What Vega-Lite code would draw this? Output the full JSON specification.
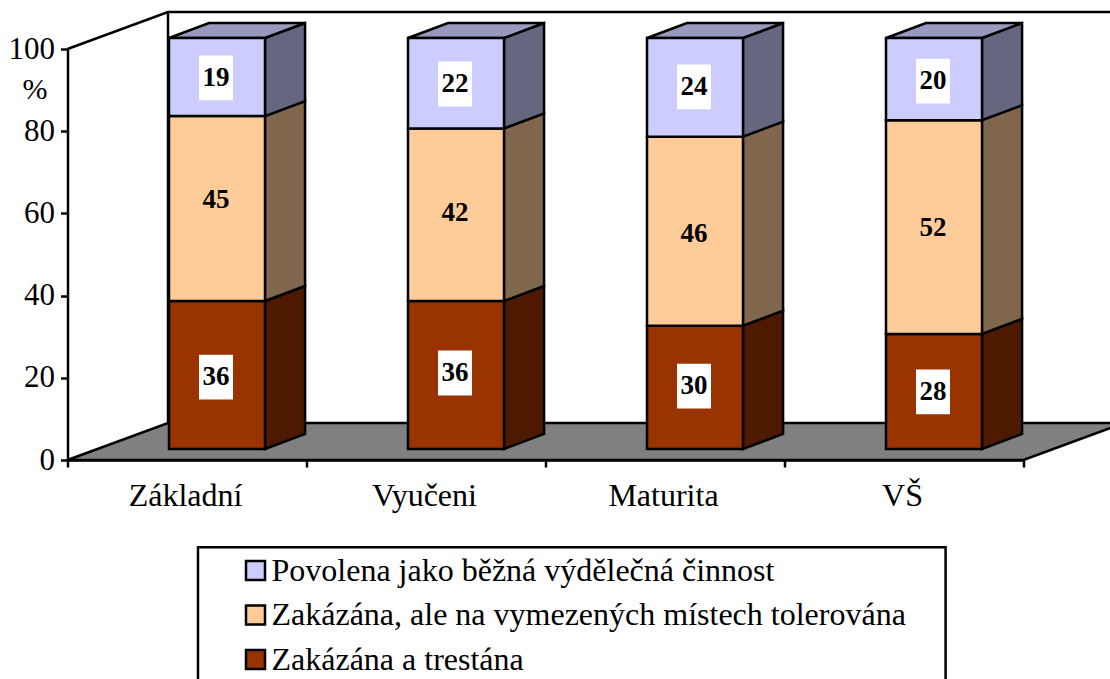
{
"$schema":"https://vega.github.io/schema/vega-lite/v6.json",
"autosize":{"type":"none"},
"width":956,"height":411,
"padding":{"left":67.5,"top":49,"right":86.5,"bottom":219},
"background":"white",
"config":{"view":{"stroke":null},"font":"Liberation Serif"},
"datasets":{
"shares":[
{"cat":"Základní","series":"Zakázána a trestána","rank":1,"value":36,"labelAt":17.5},
{"cat":"Základní","series":"Zakázána, ale na vymezených místech tolerována","rank":2,"value":45,"labelAt":60.6},
{"cat":"Základní","series":"Povolena jako běžná výdělečná činnost","rank":3,"value":19,"labelAt":90.3},
{"cat":"Vyučeni","series":"Zakázána a trestána","rank":1,"value":36,"labelAt":18.5},
{"cat":"Vyučeni","series":"Zakázána, ale na vymezených místech tolerována","rank":2,"value":42,"labelAt":57.4},
{"cat":"Vyučeni","series":"Povolena jako běžná výdělečná činnost","rank":3,"value":22,"labelAt":88.8},
{"cat":"Maturita","series":"Zakázána a trestána","rank":1,"value":30,"labelAt":15.3},
{"cat":"Maturita","series":"Zakázána, ale na vymezených místech tolerována","rank":2,"value":46,"labelAt":52.3},
{"cat":"Maturita","series":"Povolena jako běžná výdělečná činnost","rank":3,"value":24,"labelAt":88.1},
{"cat":"VŠ","series":"Zakázána a trestána","rank":1,"value":28,"labelAt":13.9},
{"cat":"VŠ","series":"Zakázána, ale na vymezených místech tolerována","rank":2,"value":52,"labelAt":53.8},
{"cat":"VŠ","series":"Povolena jako běžná výdělečná činnost","rank":3,"value":20,"labelAt":89.5}
],
"faces":[
{"cat":"Základní","face":"trest","at":0.826,"low":0,"high":36},{"cat":"Základní","face":"trest","at":0.994,"low":3.65,"high":39.65},
{"cat":"Základní","face":"tol","at":0.826,"low":36,"high":81},{"cat":"Základní","face":"tol","at":0.994,"low":39.65,"high":84.65},
{"cat":"Základní","face":"pov","at":0.826,"low":81,"high":100},{"cat":"Základní","face":"pov","at":0.994,"low":84.65,"high":103.65},
{"cat":"Základní","face":"top","at":0.425,"low":100,"high":100},{"cat":"Základní","face":"top","at":0.592,"low":100,"high":103.65},{"cat":"Základní","face":"top","at":0.826,"low":100,"high":103.65},{"cat":"Základní","face":"top","at":0.994,"low":103.65,"high":103.65},
{"cat":"Vyučeni","face":"trest","at":1.826,"low":0,"high":36},{"cat":"Vyučeni","face":"trest","at":1.994,"low":3.65,"high":39.65},
{"cat":"Vyučeni","face":"tol","at":1.826,"low":36,"high":78},{"cat":"Vyučeni","face":"tol","at":1.994,"low":39.65,"high":81.65},
{"cat":"Vyučeni","face":"pov","at":1.826,"low":78,"high":100},{"cat":"Vyučeni","face":"pov","at":1.994,"low":81.65,"high":103.65},
{"cat":"Vyučeni","face":"top","at":1.425,"low":100,"high":100},{"cat":"Vyučeni","face":"top","at":1.592,"low":100,"high":103.65},{"cat":"Vyučeni","face":"top","at":1.826,"low":100,"high":103.65},{"cat":"Vyučeni","face":"top","at":1.994,"low":103.65,"high":103.65},
{"cat":"Maturita","face":"trest","at":2.826,"low":0,"high":30},{"cat":"Maturita","face":"trest","at":2.994,"low":3.65,"high":33.65},
{"cat":"Maturita","face":"tol","at":2.826,"low":30,"high":76},{"cat":"Maturita","face":"tol","at":2.994,"low":33.65,"high":79.65},
{"cat":"Maturita","face":"pov","at":2.826,"low":76,"high":100},{"cat":"Maturita","face":"pov","at":2.994,"low":79.65,"high":103.65},
{"cat":"Maturita","face":"top","at":2.425,"low":100,"high":100},{"cat":"Maturita","face":"top","at":2.592,"low":100,"high":103.65},{"cat":"Maturita","face":"top","at":2.826,"low":100,"high":103.65},{"cat":"Maturita","face":"top","at":2.994,"low":103.65,"high":103.65},
{"cat":"VŠ","face":"trest","at":3.826,"low":0,"high":28},{"cat":"VŠ","face":"trest","at":3.994,"low":3.65,"high":31.65},
{"cat":"VŠ","face":"tol","at":3.826,"low":28,"high":80},{"cat":"VŠ","face":"tol","at":3.994,"low":31.65,"high":83.65},
{"cat":"VŠ","face":"pov","at":3.826,"low":80,"high":100},{"cat":"VŠ","face":"pov","at":3.994,"low":83.65,"high":103.65},
{"cat":"VŠ","face":"top","at":3.425,"low":100,"high":100},{"cat":"VŠ","face":"top","at":3.592,"low":100,"high":103.65},{"cat":"VŠ","face":"top","at":3.826,"low":100,"high":103.65},{"cat":"VŠ","face":"top","at":3.994,"low":103.65,"high":103.65}
],
"floor":[
{"at":0,"low":0,"high":0},{"at":0.4205,"low":0,"high":9},{"at":4,"low":0,"high":9},{"at":4.4205,"low":9,"high":9}
],
"wall":[
{"seg":"a","at":0,"level":100},{"seg":"a","at":0.4205,"level":109},{"seg":"a","at":4.4205,"level":109},
{"seg":"b","at":0.4205,"level":109,"ord":1},{"seg":"b","at":0.4205,"level":9,"ord":2}
],
"legendBox":[{"from":0.546,"to":3.674,"top":-21.2,"bottom":-60}]
},
"layer":[
{"data":{"name":"legendBox"},
 "mark":{"type":"rect","fill":"white","stroke":"black","strokeWidth":2.5},
 "encoding":{
  "x":{"field":"from","type":"quantitative","scale":{"domain":[0,4],"nice":false,"zero":false},"axis":null},
  "x2":{"field":"to"},
  "y":{"field":"top","type":"quantitative","scale":{"domain":[0,100],"nice":false},
   "axis":{"title":"%","titleAngle":0,"titleX":-33,"titleY":49,"titleAlign":"center","titleBaseline":"alphabetic","titleFontSize":30,"titleFontWeight":"normal","titleFont":"Liberation Serif","titleColor":"black",
    "values":[0,20,40,60,80,100],"labelFontSize":31,"labelColor":"black","labelFont":"Liberation Serif","labelPadding":6,"tickSize":7,"tickWidth":2.5,"tickColor":"black","domainWidth":2.5,"domainColor":"black","grid":false,"zindex":1}},
  "y2":{"field":"bottom"}}},
{"data":{"name":"floor"},
 "mark":{"type":"area","fill":"#808080","stroke":"black","strokeWidth":2.5},
 "encoding":{
  "x":{"field":"at","type":"quantitative","scale":{"domain":[0,4],"nice":false,"zero":false},"axis":null},
  "y":{"field":"low","type":"quantitative","stack":null},
  "y2":{"field":"high"}}},
{"data":{"name":"wall"},
 "mark":{"type":"line","color":"black","strokeWidth":2.5},
 "encoding":{
  "x":{"field":"at","type":"quantitative","scale":{"domain":[0,4],"nice":false,"zero":false},"axis":null},
  "y":{"field":"level","type":"quantitative"},
  "detail":{"field":"seg"},
  "order":{"field":"ord"}}},
{"data":{"name":"faces"},
 "mark":{"type":"area","stroke":"black","strokeWidth":2.5,"yOffset":-11,"y2Offset":-11},
 "encoding":{
  "x":{"field":"at","type":"quantitative","scale":{"domain":[0,4],"nice":false,"zero":false},"axis":null},
  "y":{"field":"low","type":"quantitative","stack":null},
  "y2":{"field":"high"},
  "detail":{"field":"cat"},
  "color":{"field":"face","type":"nominal","legend":null,
   "scale":{"domain":["top","pov","tol","trest"],"range":["#9999BF","#666680","#80664D","#4D1A00"]}}}},
{"data":{"name":"shares"},
 "mark":{"type":"bar","width":96,"xOffset":30,"yOffset":-11,"y2Offset":-11,"stroke":"black","strokeWidth":2.5},
 "encoding":{
  "x":{"field":"cat","type":"nominal","sort":["Základní","Vyučeni","Maturita","VŠ"],
   "scale":{"paddingInner":0,"paddingOuter":0},
   "axis":{"title":null,"labelAngle":0,"labelFontSize":32,"labelColor":"black","labelFont":"Liberation Serif","labelPadding":13,"labelOffset":-2,
    "tickBand":"extent","tickExtra":true,"tickSize":7,"tickWidth":2.5,"tickColor":"black","domainWidth":2.5,"domainColor":"black","zindex":1}},
  "y":{"field":"value","type":"quantitative","stack":"zero"},
  "order":{"field":"rank"},
  "color":{"field":"series","type":"nominal",
   "scale":{"domain":["Povolena jako běžná výdělečná činnost","Zakázána, ale na vymezených místech tolerována","Zakázána a trestána"],"range":["#CCCCFF","#FFCC99","#993300"]},
   "legend":{"title":null,"orient":"none","legendX":172,"legendY":505.5,"symbolType":"square","symbolSize":361,"symbolStrokeColor":"black","symbolStrokeWidth":2.5,"symbolOpacity":1,"labelFontSize":32,"labelColor":"black","labelFont":"Liberation Serif","labelOffset":0,"labelLimit":800,"rowPadding":12.5,"padding":0}}}},
{"data":{"name":"shares"},
 "transform":[{"filter":"datum.rank !== 2"}],
 "mark":{"type":"point","shape":"M-1,-1.32H1V1.32H-1Z","filled":true,"fill":"white","opacity":1,"size":1156,"xOffset":29,"yOffset":-11},
 "encoding":{
  "x":{"field":"cat","type":"nominal","sort":["Základní","Vyučeni","Maturita","VŠ"],"scale":{"paddingInner":0,"paddingOuter":0},"axis":null},
  "y":{"field":"labelAt","type":"quantitative"}}},
{"data":{"name":"shares"},
 "mark":{"type":"text","fontWeight":"bold","fontSize":27,"font":"Liberation Serif","color":"black","baseline":"middle","xOffset":29,"yOffset":-11},
 "encoding":{
  "x":{"field":"cat","type":"nominal","sort":["Základní","Vyučeni","Maturita","VŠ"],"scale":{"paddingInner":0,"paddingOuter":0},"axis":null},
  "y":{"field":"labelAt","type":"quantitative"},
  "text":{"field":"value","type":"quantitative"}}}
],
"resolve":{"scale":{"x":"independent","color":"independent"}}
}
